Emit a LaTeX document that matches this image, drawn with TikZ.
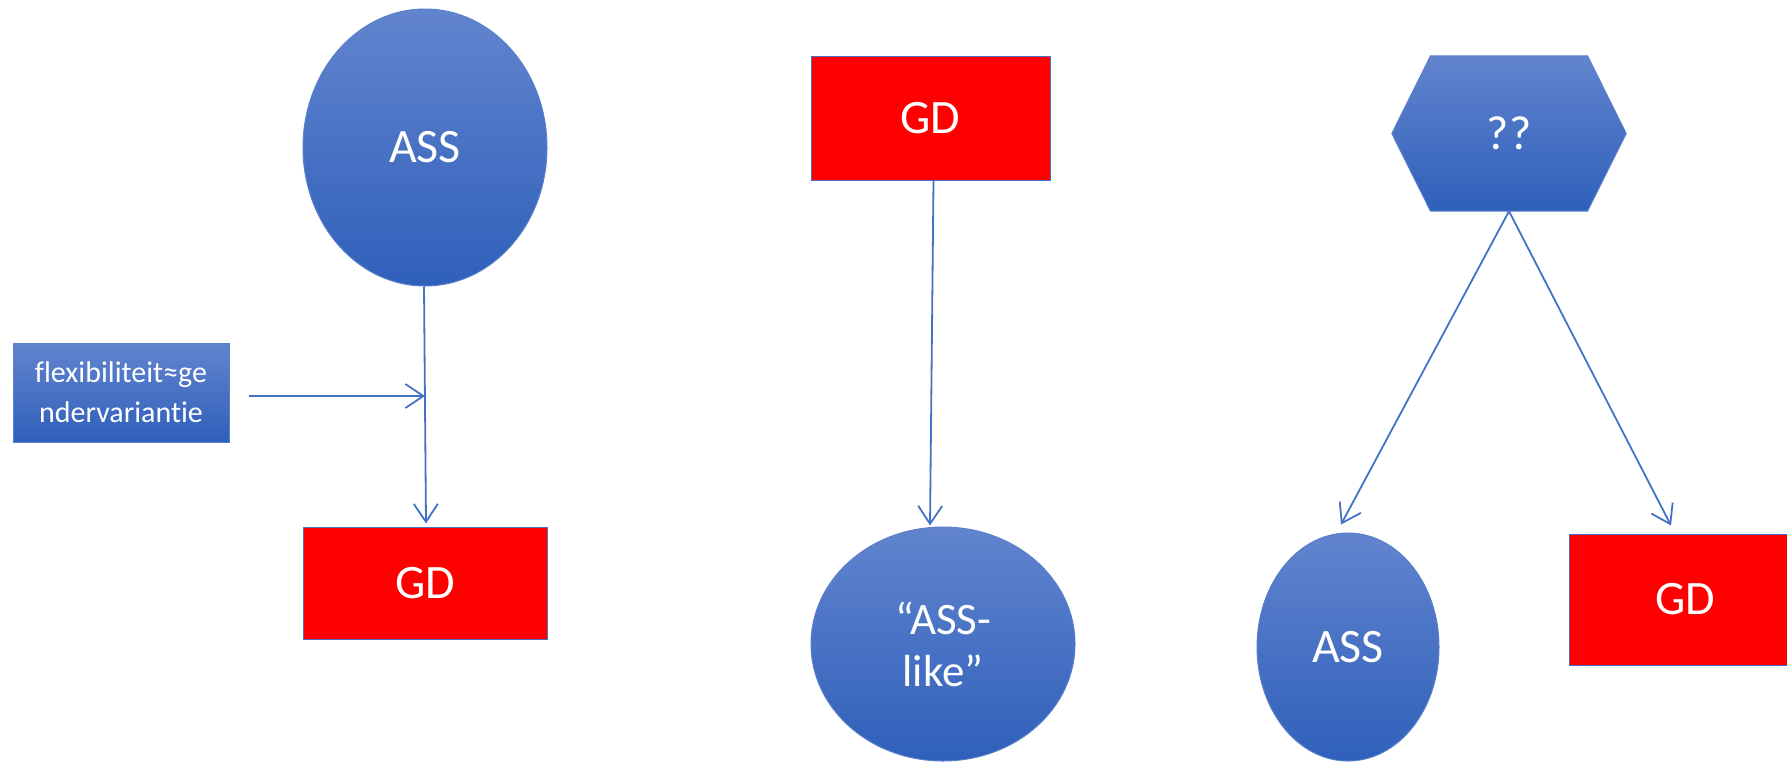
\documentclass[tikz,border=0pt]{standalone}
\usepackage{fontspec}
\setmainfont[Ligatures={NoCommon}]{Carlito}
\usetikzlibrary{arrows.meta,shapes.geometric}
\definecolor{lineblue}{HTML}{4472C4}
\definecolor{topblue}{HTML}{6284CE}
\definecolor{botblue}{HTML}{2F60BA}
\definecolor{edgeblue}{HTML}{5A7FCB}
\definecolor{gdred}{HTML}{FF0000}
\tikzset{
  blueshape/.style={top color=topblue, bottom color=botblue, draw=edgeblue, line width=1pt, text=white, inner sep=0pt, align=center},
  blueell/.style={blueshape, ellipse},
  redbox/.style={rectangle, fill=gdred, draw=lineblue, line width=1pt, text=white, inner sep=0pt},
  bigtext/.style={font=\fontsize{48}{56}\selectfont},
  conn/.style={draw=lineblue, line width=1.8pt, -{Straight Barb[length=18pt,width=24pt,line width=1.8pt]}},
}
\begin{document}
\begin{tikzpicture}[x=1pt,y=-1pt]
\useasboundingbox (0,0) rectangle (1787,761);
% left group
\node[blueell, bigtext, minimum width=244pt, minimum height=277pt] (ass1) at (425,147.5) {ASS};
\node[blueshape, rectangle, minimum width=216pt, minimum height=99pt, font=\fontsize{30}{40}\selectfont] (flex) at (121,392.5) {flexibiliteit≈ge\\ndervariantie};
\node[redbox, bigtext, minimum width=244pt, minimum height=112pt] (gd1) at (425,583) {GD};
\coordinate (j) at (425,396);
\draw[conn] ([xshift=-1pt]ass1.south) -- ([xshift=1pt,yshift=3pt]gd1.north);
\draw[conn] ([xshift=19pt]flex.east |- j) -- (j);
% middle group
\node[redbox, bigtext, minimum width=239pt, minimum height=124pt] (gd2) at (930.5,118) {GD};
\node[blueell, font=\fontsize{45}{52}\selectfont, minimum width=264pt, minimum height=234pt] (asslike) at (943,644) {“ASS-\\like”};
\draw[conn] ([xshift=3pt]gd2.south) -- ([xshift=-13pt,yshift=1pt]asslike.north);
% right group
\node[rectangle, minimum width=234pt, minimum height=155pt, inner sep=0pt] (hex) at (1509,133.5) {};
\shade[top color=topblue, bottom color=botblue, draw=edgeblue, line width=1pt]
  ([xshift=-78.5pt]hex.north) -- ([xshift=78.5pt]hex.north) -- (hex.east) --
  ([xshift=78.5pt]hex.south) -- ([xshift=-78.5pt]hex.south) -- (hex.west) -- cycle;
\node[text=white, bigtext] at (hex.center) {??};
\node[blueell, bigtext, minimum width=182pt, minimum height=228pt] (ass2) at (1348,647) {ASS};
\node[redbox, bigtext, minimum width=232pt, minimum height=131pt] (gd3) at (1685,599.5) {GD};
\draw[conn] (hex.south) -- ([xshift=-7pt,yshift=8pt]ass2.north);
\draw[conn] (hex.south) -- ([xshift=-14pt,yshift=8pt]gd3.north);
\end{tikzpicture}
\end{document}
